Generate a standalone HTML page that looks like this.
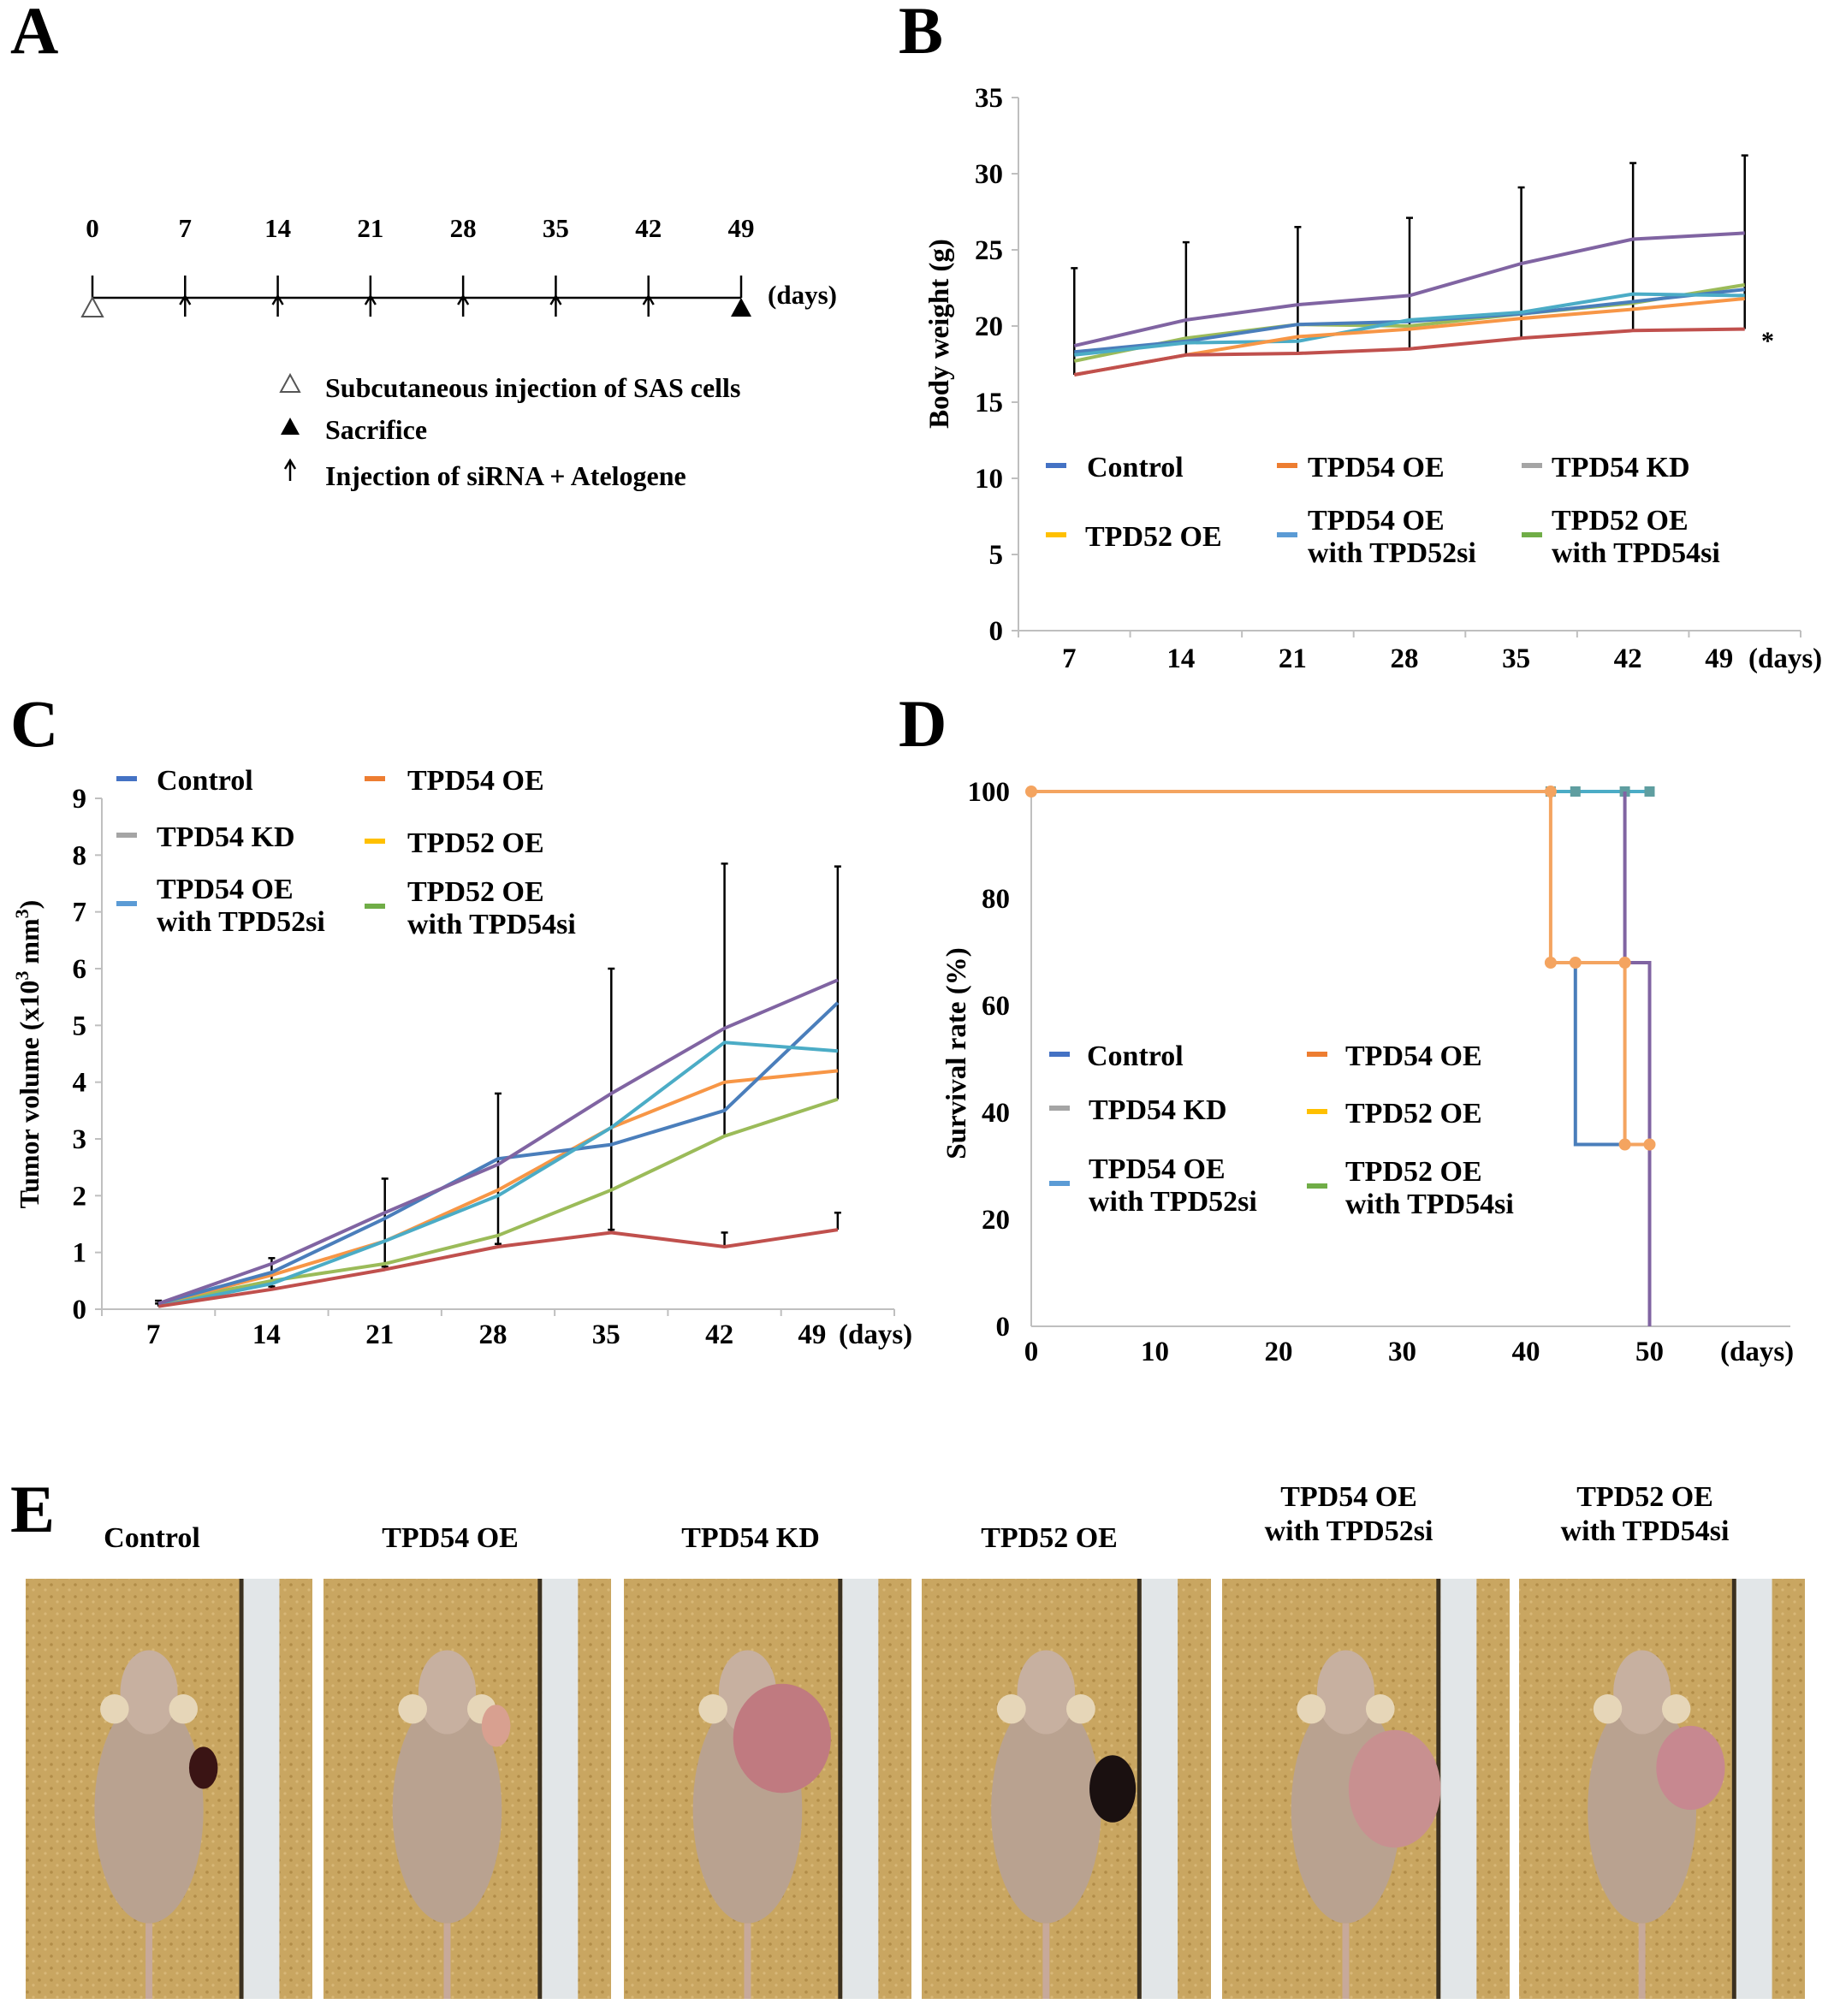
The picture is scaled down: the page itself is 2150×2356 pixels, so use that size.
<!DOCTYPE html>
<html><head><meta charset="utf-8">
<style>
html,body{margin:0;padding:0;background:#fff;}
svg{display:block;font-family:"Liberation Serif",serif;font-weight:bold;}
</style></head>
<body>
<svg id="fig" width="2150" height="2356" viewBox="0 0 2150 2356" xmlns="http://www.w3.org/2000/svg">
<defs>
<pattern id="dots" width="14" height="14" patternUnits="userSpaceOnUse">
<rect width="14" height="14" fill="#c9a661"/>
<circle cx="4" cy="4" r="1.8" fill="#b18c48"/>
<circle cx="11" cy="10" r="1.6" fill="#d8b878"/>
</pattern>
</defs>
<text x="12" y="62" font-size="78">A</text>
<text x="1050" y="62" font-size="78">B</text>
<text x="12" y="872" font-size="78">C</text>
<text x="1050" y="872" font-size="78">D</text>
<text x="12" y="1790" font-size="78">E</text>

<g id="panelA"></g>
<g id="panelB"></g>
<g id="panelC"></g>
<g id="panelD"></g>
<g id="panelE"></g>
</svg>
<script>
const NS="http://www.w3.org/2000/svg";
function mk(parent,tag,attrs,text){const e=document.createElementNS(NS,tag);for(const k in attrs)e.setAttribute(k,attrs[k]);if(text!==undefined)e.textContent=text;parent.appendChild(e);return e;}

// ---------- Panel A data ----------
const timelineDays=[0,7,14,21,28,35,42,49];
// ---------- Panel B data ----------
const bCategories=[7,14,21,28,35,42,49];
const bYTicks=[0,5,10,15,20,25,30,35];
const bPurple=[18.7,20.4,21.4,22.0,24.1,25.7,26.1];
const bRed=[16.8,18.1,18.2,18.5,19.2,19.7,19.8];
const bOrange=[16.8,18.1,19.3,19.8,20.5,21.1,21.8];
const bTeal=[18.1,18.9,19.0,20.4,20.9,22.1,22.0];
const bBlue=[18.3,19.0,20.1,20.3,20.8,21.6,22.4];
const bGreen=[17.7,19.2,20.1,20.0,20.8,21.5,22.7];
const bErrTop=[23.8,25.5,26.5,27.1,29.1,30.7,31.2];
const bErrLow=[16.8,18.1,18.2,18.5,19.2,19.7,19.8];
// ---------- Panel C data ----------
const cCategories=[7,14,21,28,35,42,49];
const cYTicks=[0,1,2,3,4,5,6,7,8,9];
const cPurple=[0.1,0.8,1.7,2.55,3.8,4.95,5.8];
const cBlue=[0.1,0.65,1.6,2.65,2.9,3.5,5.4];
const cOrange=[0.1,0.6,1.2,2.1,3.2,4.0,4.2];
const cTeal=[0.05,0.45,1.2,2.0,3.2,4.7,4.55];
const cGreen=[0.1,0.5,0.8,1.3,2.1,3.05,3.7];
const cRed=[0.05,0.35,0.7,1.1,1.35,1.1,1.4];
const cErrTop=[0.15,0.9,2.3,3.8,6.0,7.85,7.8];
const cErrLow=[0.05,0.35,0.7,1.1,1.35,3.05,3.7];
const cRedErrTop=[0.1,0.4,0.75,1.15,1.4,1.35,1.7];
// ---------- Panel D data ----------
const dXTicks=[0,10,20,30,40,50];
const dYTicks=[0,20,40,60,80,100];
const dOrangeX=[0,42,42,48,48,50];
const dOrangeY=[100,100,68,68,34,34];
const dTealX=[42,44,48,50];
const dTealY=[100,100,100,100];
const dBlueX=[44,44,48];
const dBlueY=[68,34,34];
const dPurpleX=[48,48,50,50];
const dPurpleY=[100,68,68,0];

const legendLabels=["Control","TPD54 OE","TPD54 KD","TPD52 OE","TPD54 OE|with TPD52si","TPD52 OE|with TPD54si"];
const legendColors=["#4472c4","#ed7d31","#a5a5a5","#ffc000","#5b9bd5","#70ad47"];

// ================= Panel A =================
(function(){
const g=document.getElementById('panelA');
const xA=d=>108+d*(866-108)/49;
const ly=348;
const line=mk(g,'line',{x1:xA(0),y1:ly,x2:xA(49),y2:ly,stroke:'#000','stroke-width':2.5});


timelineDays.forEach((d,i)=>{
 const t=mk(g,'text',{x:xA(d),y:277,'font-size':31,'text-anchor':'middle'},String(d));
 
 
 mk(g,'line',{x1:xA(d),y1:322,x2:xA(d),y2:ly,stroke:'#000','stroke-width':2.5});
 if(i>0&&i<timelineDays.length-1){
  const a=mk(g,'path',{d:`M${xA(d)} 370 L${xA(d)} 346 M${xA(d)-6} 356 L${xA(d)} 346 L${xA(d)+6} 356`,stroke:'#000','stroke-width':2.5,fill:'none'});
  
  
 }
});
const t0=mk(g,'path',{d:`M${xA(0)} 348 L${xA(0)-12} 370 L${xA(0)+12} 370 Z`,fill:'#fff',stroke:'#555','stroke-width':2});


const t1=mk(g,'path',{d:`M${xA(49)} 348 L${xA(49)-12} 370 L${xA(49)+12} 370 Z`,fill:'#000'});


const dd=mk(g,'text',{x:897,y:355,'font-size':31},'(days)');


mk(g,'path',{d:'M339 438 L328 458 L350 458 Z',fill:'#fff',stroke:'#555','stroke-width':2});
mk(g,'path',{d:'M339 488 L328 508 L350 508 Z',fill:'#000'});
mk(g,'path',{d:'M339 562 L339 538 M333 548 L339 538 L345 548',stroke:'#000','stroke-width':2.5,fill:'none'});
const labs=[["Subcutaneous injection of SAS cells",464],["Sacrifice",513],["Injection of siRNA + Atelogene",567]];
labs.forEach((l,i)=>{const t=mk(g,'text',{x:380,y:l[1],'font-size':32},l[0]);
 
 });
})();

function drawLegend(g,pos,fs){
 legendLabels.forEach((lab,i)=>{
  const p=pos[i];
  const parts=lab.split('|');
  const sw=mk(g,'rect',{x:p[0],y:p[2]-5,width:24,height:6,fill:legendColors[i]});
  
  
  const t=mk(g,'text',{x:p[1],'font-size':fs});
  
  
  if(parts.length===1){mk(t,'tspan',{x:p[1],y:p[2]+11},parts[0]);}
  else{mk(t,'tspan',{x:p[1],y:p[2]-8},parts[0]);mk(t,'tspan',{x:p[1],y:p[2]+30},parts[1]);}
 });
}

function categoryChart(g,cfg){
 const {x0,x1,y0,yTop,ymax,cats,yticks,series,errTop,errLow,extraErr,extraBase,tickFs,catY,unitX}=cfg;
 const bw=(x1-x0)/cats.length;
 const X=i=>x0+bw/2+i*bw;
 const Y=v=>y0-(v/ymax)*(y0-yTop);
 const ax=mk(g,'line',{x1:x0,y1:yTop,x2:x0,y2:y0,stroke:'#bfbfbf','stroke-width':2});
 
 const bx=mk(g,'line',{x1:x0,y1:y0,x2:x1,y2:y0,stroke:'#bfbfbf','stroke-width':2});
 
 yticks.forEach(v=>{
  mk(g,'line',{x1:x0-8,y1:Y(v),x2:x0,y2:Y(v),stroke:'#bfbfbf','stroke-width':2});
  const t=mk(g,'text',{x:x0-18,y:Y(v)+11,'font-size':tickFs,'text-anchor':'end'},String(v));
  
 });
 for(let i=0;i<=cats.length;i++) mk(g,'line',{x1:x0+i*bw,y1:y0,x2:x0+i*bw,y2:y0+8,stroke:'#bfbfbf','stroke-width':2});
 cats.forEach((c,i)=>{
  const xx=i===cats.length-1?X(i)-30:X(i)-6;
  const t=mk(g,'text',{x:xx,y:catY,'font-size':tickFs,'text-anchor':'middle'},String(c));
  
 });
 const u=mk(g,'text',{x:unitX,y:catY,'font-size':tickFs},'(days)');
 
 cats.forEach((c,i)=>{
  const e=mk(g,'line',{x1:X(i),y1:Y(errTop[i]),x2:X(i),y2:Y(errLow[i]),stroke:'#000','stroke-width':2.5});
  
  mk(g,'line',{x1:X(i)-4,y1:Y(errTop[i]),x2:X(i)+4,y2:Y(errTop[i]),stroke:'#000','stroke-width':2.5});
  if(extraErr){
   const e2=mk(g,'line',{x1:X(i),y1:Y(extraErr[i]),x2:X(i),y2:Y(extraBase[i]),stroke:'#000','stroke-width':2.5});
   
   mk(g,'line',{x1:X(i)-4,y1:Y(extraErr[i]),x2:X(i)+4,y2:Y(extraErr[i]),stroke:'#000','stroke-width':2.5});
  }
 });
 series.forEach(s=>{
  const pts=s.v.map((v,i)=>X(i).toFixed(1)+','+Y(v).toFixed(1)).join(' ');
  const p=mk(g,'polyline',{points:pts,fill:'none',stroke:s.c,'stroke-width':4,'stroke-linejoin':'round'});
  
  
 });
 return {X,Y};
}

// ================= Panel B =================
(function(){
const g=document.getElementById('panelB');
categoryChart(g,{x0:1190,x1:2104,y0:737,yTop:114,ymax:35,cats:bCategories,yticks:bYTicks,
 series:[{n:'line-green',v:bGreen,c:'#9bbb59'},{n:'line-blue',v:bBlue,c:'#4a7ebb'},{n:'line-teal',v:bTeal,c:'#4bacc6'},{n:'line-orange',v:bOrange,c:'#f79646'},{n:'line-red',v:bRed,c:'#c0504d'},{n:'line-purple',v:bPurple,c:'#8064a2'}],
 errTop:bErrTop,errLow:bErrLow,tickFs:33,catY:780,unitX:2043});
const t=mk(g,'text',{x:0,y:0,'font-size':33,'text-anchor':'middle',transform:'translate(1108,390) rotate(-90)'},'Body weight (g)');

const s=mk(g,'text',{x:2058,y:408,'font-size':30},'*');

drawLegend(g,[[1222,1270,546],[1492,1528,546],[1778,1813,546],[1222,1268,627],[1492,1528,627],[1778,1813,627]],34);
})();

// ================= Panel C =================
(function(){
const g=document.getElementById('panelC');
categoryChart(g,{x0:119,x1:1045,y0:1530,yTop:933,ymax:9,cats:cCategories,yticks:cYTicks,
 series:[{n:'line-green',v:cGreen,c:'#9bbb59'},{n:'line-orange',v:cOrange,c:'#f79646'},{n:'line-blue',v:cBlue,c:'#4a7ebb'},{n:'line-teal',v:cTeal,c:'#4bacc6'},{n:'line-red',v:cRed,c:'#c0504d'},{n:'line-purple',v:cPurple,c:'#8064a2'}],
 errTop:cErrTop,errLow:cErrLow,extraErr:cRedErrTop,extraBase:cRed,tickFs:33,catY:1570,unitX:980});
const t=mk(g,'text',{x:0,y:0,'font-size':32,'text-anchor':'middle',transform:'translate(45,1232) rotate(-90)'});

t.appendChild(document.createTextNode('Tumor volume (x10'));
mk(t,'tspan',{'font-size':22,dy:-12},'3');
mk(t,'tspan',{dy:12},' mm');
mk(t,'tspan',{'font-size':22,dy:-12},'3');
mk(t,'tspan',{dy:12},')');
drawLegend(g,[[136,183,912],[426,476,912],[136,183,978],[426,476,985],[136,183,1058],[426,476,1061]],34);
})();

// ================= Panel D =================
(function(){
const g=document.getElementById('panelD');
const x0=1205,y0=1550,yTop=925,pxDay=14.45;
const X=d=>x0+d*pxDay, Y=v=>y0-v/100*(y0-yTop);
const ax=mk(g,'line',{x1:x0,y1:yTop,x2:x0,y2:y0,stroke:'#bfbfbf','stroke-width':2});

const bx=mk(g,'line',{x1:x0,y1:y0,x2:2092,y2:y0,stroke:'#bfbfbf','stroke-width':2});

dYTicks.forEach(v=>{const t=mk(g,'text',{x:x0-25,y:Y(v)+11,'font-size':33,'text-anchor':'end'},String(v));
 });
dXTicks.forEach(v=>{const t=mk(g,'text',{x:X(v),y:1590,'font-size':33,'text-anchor':'middle'},String(v));
 });
const u=mk(g,'text',{x:2010,y:1590,'font-size':33},'(days)');

const t=mk(g,'text',{x:0,y:0,'font-size':33,'text-anchor':'middle',transform:'translate(1128,1231) rotate(-90)'},'Survival rate (%)');

function path(xs,ys,c,n){const pts=xs.map((x,i)=>X(x).toFixed(1)+','+Y(ys[i]).toFixed(1)).join(' ');
 const p=mk(g,'polyline',{points:pts,fill:'none',stroke:c,'stroke-width':4});
 return p;}
path(dTealX,dTealY,'#4bacc6','line-teal');
dTealX.forEach((x,i)=>mk(g,'rect',{x:X(x)-6,y:Y(dTealY[i])-6,width:12,height:12,fill:'#5f9ea0'}));
path(dBlueX,dBlueY,'#4a7ebb','line-blue');
path(dPurpleX,dPurpleY,'#8064a2','line-purple');
path(dOrangeX,dOrangeY,'#f4a460','line-orange');
dOrangeX.forEach((x,i)=>mk(g,'circle',{cx:X(x),cy:Y(dOrangeY[i]),r:7,fill:'#f4a460'}));
mk(g,'circle',{cx:X(44),cy:Y(68),r:7,fill:'#f4a460'});
drawLegend(g,[[1226,1270,1234],[1527,1572,1234],[1226,1272,1297],[1527,1572,1301],[1226,1272,1385],[1527,1572,1388]],34);
})();

// ================= Panel E =================
const photoLabels=["Control","TPD54 OE","TPD54 KD","TPD52 OE","TPD54 OE|with TPD52si","TPD52 OE|with TPD54si"];
const photoX=[30,378,729,1077,1428,1775];
const photoW=[335,336,336,338,336,334];
const tumor=[["#3a1414",0.62,0.45,0.05,0.05],["#d8a090",0.6,0.35,0.05,0.05],["#c07a80",0.55,0.38,0.17,0.13],["#1a1010",0.66,0.5,0.08,0.08],["#c89090",0.6,0.5,0.16,0.14],["#c78890",0.6,0.45,0.12,0.1]];
(function(){
const g=document.getElementById('panelE');
photoLabels.forEach((lab,i)=>{
 const cx=photoX[i]+photoW[i]/2-20;
 const parts=lab.split('|');
 const t=mk(g,'text',{'font-size':34,'text-anchor':'middle'});
 
 if(parts.length===1) mk(t,'tspan',{x:cx,y:1808},parts[0]);
 else {mk(t,'tspan',{x:cx,y:1760},parts[0]);mk(t,'tspan',{x:cx,y:1800},parts[1]);}
 const x=photoX[i],w=photoW[i],y=1845,h=491;
 const ph=mk(g,'g',{});
 
 mk(ph,'rect',{x:x,y:y,width:w,height:h,fill:'url(#dots)'});
 mk(ph,'rect',{x:x+w*0.745,y:y,width:5,height:h,fill:'#3a3020'});
 mk(ph,'rect',{x:x+w*0.76,y:y,width:w*0.125,height:h,fill:'#e2e6e8'});
 // mouse
 const mx=x+w*0.43;
 mk(ph,'ellipse',{cx:mx,cy:y+h*0.55,rx:w*0.19,ry:h*0.27,fill:'#b9a290'});
 mk(ph,'ellipse',{cx:mx,cy:y+h*0.27,rx:w*0.1,ry:h*0.1,fill:'#c7b0a0'});
 mk(ph,'ellipse',{cx:mx-w*0.12,cy:y+h*0.31,rx:w*0.05,ry:h*0.035,fill:'#e6d6b8'});
 mk(ph,'ellipse',{cx:mx+w*0.12,cy:y+h*0.31,rx:w*0.05,ry:h*0.035,fill:'#e6d6b8'});
 mk(ph,'rect',{x:mx-4,y:y+h*0.82,width:8,height:h*0.18,fill:'#c7a99a'});
 const tm=tumor[i];
 mk(ph,'ellipse',{cx:x+w*tm[1],cy:y+h*tm[2],rx:w*tm[3],ry:h*tm[4],fill:tm[0]});
});
})();
</script>
</body></html>
